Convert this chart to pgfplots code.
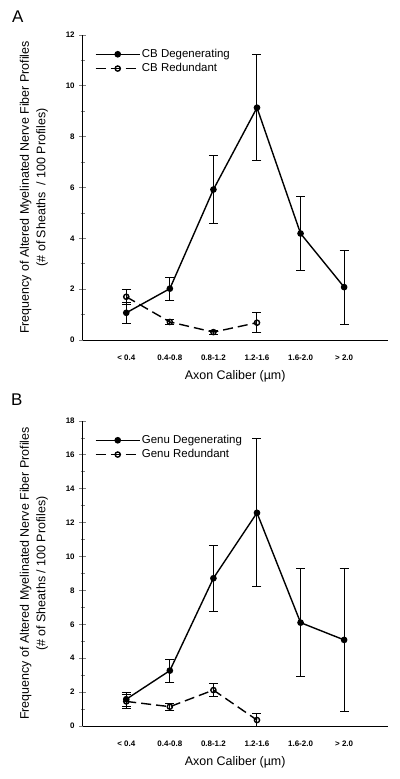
\documentclass[border=0pt]{standalone}
\usepackage{fontspec}
\setmainfont{Liberation Sans}
\usepackage{pgfplots}
\usepackage{pgfplotstable}
\pgfplotsset{compat=1.18}

\pgfplotstableread{
x y e
0 1.07 0.42
1 2.02 0.45
2 5.92 1.32
3 9.14 2.08
4 4.19 1.47
5 2.08 1.46
}\degA
\pgfplotstableread{
x y e
0 1.70 0.30
1 0.71 0.10
2 0.31 0.08
3 0.68 0.39
}\redA
\pgfplotstableread{
x y e
0 1.58 0.40
1 3.27 0.68
2 8.72 1.94
3 12.58 4.37
4 6.10 3.17
5 5.08 4.20
}\degB
\pgfplotstableread{
x y e
0 1.45 0.42
1 1.14 0.20
2 2.12 0.37
3 0.35 0.37
}\redB

\pgfplotsset{
  panel/.style={
    scale only axis, width=305bp, height=305bp,
    xmin=-1, xmax=6, ymin=0,
    axis lines=left, axis line style={-, line width=0.9bp},
    xtick={0,1,2,3,4,5},
    xticklabels={{< 0.4},{0.4-0.8},{0.8-1.2},{1.2-1.6},{1.6-2.0},{> 2.0}},
    xtick style={draw=none},
    ytick style={line width=0.8bp},
    tick align=center,
    major tick length=7bp, minor tick length=4bp,
    minor y tick num=1,
    /pgf/number format/assume math mode=true,
    ticklabel style={font=\fontsize{8}{9}\selectfont\bfseries},
    xticklabel style={yshift=-8bp},
    yticklabel style={xshift=-1bp},
    xlabel={Axon Caliber (µm)},
    xlabel style={font=\fontsize{12.5}{15}\selectfont, yshift=-3bp},
    ylabel style={font=\fontsize{12.5}{16.5}\selectfont, align=center, yshift=11bp},
    clip=false,
    legend cell align=left,
    legend style={draw=none, fill=none, at={(0.03,0.965)}, anchor=north west,
      font=\fontsize{11.5}{13}\selectfont, row sep=1.5bp,
      nodes={inner sep=1.5bp}},
    legend image code/.code={\draw[mark repeat=2,mark phase=2,##1] plot coordinates {(0bp,0bp)(22bp,0bp)(44bp,0bp)};},
  },
  degstyle/.style={black, line width=1.4bp, mark=*, mark size=2.6bp,
    error bars/.cd, y dir=both, y explicit,
    error bar style={line width=1bp, solid},
    error mark options={rotate=90, mark size=4.5bp, line width=1bp, solid}},
  redstyle/.style={black, line width=1.4bp, dash pattern=on 10bp off 5bp,
    mark=o, mark size=2.6bp, mark options={solid, fill=white, line width=1.4bp},
    error bars/.cd, y dir=both, y explicit,
    error bar style={line width=1bp, solid},
    error mark options={rotate=90, mark size=4.5bp, line width=1bp, solid}},
}

\begin{document}
\begin{tikzpicture}
\useasboundingbox (0bp,0bp) rectangle (400bp,779bp);
\node[font=\fontsize{17}{17}\selectfont, anchor=base west, inner sep=0pt] at (12bp,756bp) {A};
\node[font=\fontsize{17}{17}\selectfont, anchor=base west, inner sep=0pt] at (11bp,373bp) {B};

\begin{axis}[panel, at={(82.7bp,439bp)}, anchor=south west, ymax=12,
  ytick={0,2,...,12},
  ylabel={Frequency of Altered Myelinated Nerve Fiber Profiles\\(\# of Sheaths \ / 100 Profiles)}]
\addplot[degstyle] table[x=x, y=y, y error=e] {\degA};
\addlegendentry{CB Degenerating}
\addplot[redstyle] table[x=x, y=y, y error=e] {\redA};
\addlegendentry{CB Redundant}
\end{axis}

\begin{axis}[panel, at={(82.7bp,53bp)}, anchor=south west, ymax=18,
  ytick={0,2,...,18},
  ylabel={Frequency of Altered Myelinated Nerve Fiber Profiles\\(\# of Sheaths / 100 Profiles)}]
\addplot[degstyle] table[x=x, y=y, y error=e] {\degB};
\addlegendentry{Genu Degenerating}
\addplot[redstyle] table[x=x, y=y, y error=e] {\redB};
\addlegendentry{Genu Redundant}
\end{axis}
\end{tikzpicture}
\end{document}
